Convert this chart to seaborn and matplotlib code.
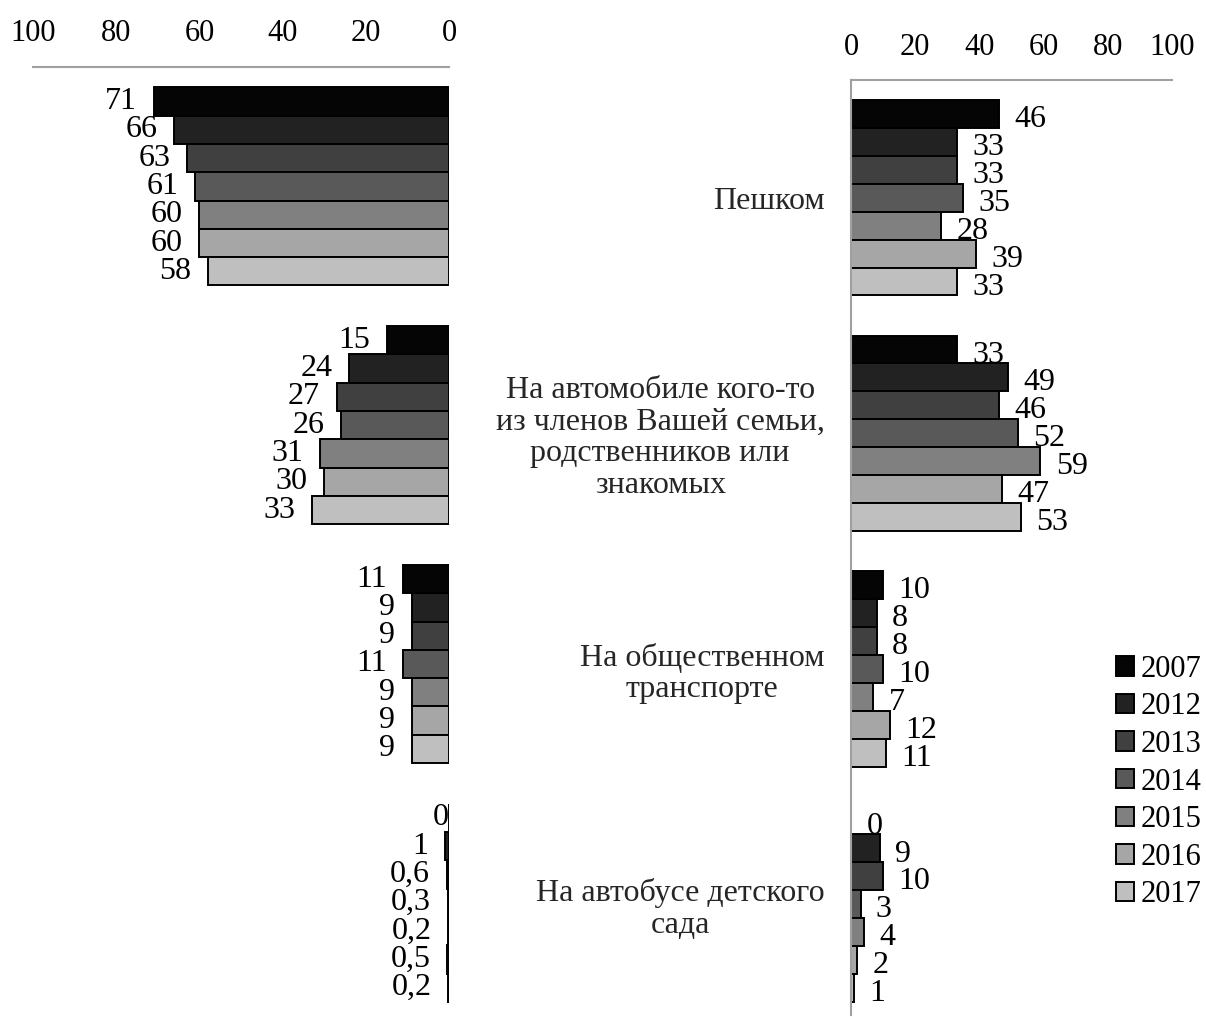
import pandas as pd
import seaborn as sns
import matplotlib.pyplot as plt
from matplotlib.patches import Patch

# categories (right-hand labels) and years
categories = [
    "Пешком",
    "На автомобиле кого-то\nиз членов Вашей семьи,\nродственников или\nзнакомых",
    "На общественном\nтранспорте",
    "На автобусе детского\nсада",
]
years = ["2007", "2012", "2013", "2014", "2015", "2016", "2017"]
colors = ["#050505", "#222222", "#404040", "#595959", "#808080", "#a6a6a6", "#bfbfbf"]

# left panel values, one list per category (years in order)
left_walk = [71, 66, 63, 61, 60, 60, 58]
left_car = [15, 24, 27, 26, 31, 30, 33]
left_public = [11, 9, 9, 11, 9, 9, 9]
left_bus = [0, 1, 0.6, 0.3, 0.2, 0.5, 0.2]

# right panel values
right_walk = [46, 33, 33, 35, 28, 39, 33]
right_car = [33, 49, 46, 52, 59, 47, 53]
right_public = [10, 8, 8, 10, 7, 12, 11]
right_bus = [0, 9, 10, 3, 4, 2, 1]


def to_long(groups):
    rows = []
    for cat, vals in zip(categories, groups):
        for yr, v in zip(years, vals):
            rows.append({"cat": cat, "year": yr, "value": v})
    return pd.DataFrame(rows)


df_left = to_long([left_walk, left_car, left_public, left_bus])
df_right = to_long([right_walk, right_car, right_public, right_bus])

sns.set_style("white")
plt.rcParams["font.family"] = ["Liberation Serif", "DejaVu Serif"]
plt.rcParams["text.color"] = "black"

fig = plt.figure(figsize=(12.06, 10.17), dpi=100)
W, H = 1206, 1017
ax_l = fig.add_axes([33 / W, 1 - 1015 / H, (449 - 33) / W, (1015 - 67) / H])
ax_r = fig.add_axes([851 / W, 1 - 1015 / H, (1172 - 851) / W, (1015 - 80) / H])

spine_gray = "#a0a0a0"

for ax, df, tpad in [(ax_l, df_left, 14), (ax_r, df_right, 13)]:
    sns.barplot(
        data=df, x="value", y="cat", hue="year", order=categories,
        hue_order=years, palette=colors, orient="h", width=0.83,
        edgecolor="black", linewidth=1.4, ax=ax, legend=False,
    )
    ax.set_ylim(3.47, -0.5)
    ax.set_xticks([0, 20, 40, 60, 80, 100])
    ax.xaxis.tick_top()
    ax.tick_params(axis="x", length=0, labelsize=22, pad=tpad, colors="black")
    ax.set_xlabel("")
    ax.set_ylabel("")
    for s in ["right", "bottom"]:
        ax.spines[s].set_visible(False)
    ax.spines["top"].set_color(spine_gray)
    ax.spines["top"].set_linewidth(1.5)

# left panel: reversed axis, no category labels
ax_l.set_xlim(100, 0)
ax_l.spines["left"].set_visible(False)
ax_l.set_yticks([])
for cont, yr in zip(ax_l.containers, years):
    vals = df_left[df_left["year"] == yr]["value"].tolist()
    labels = [f"{v:g}".replace(".", ",") for v in vals]
    ax_l.bar_label(cont, labels=labels, padding=12, fontsize=23)

# right panel
ax_r.set_xlim(0, 100)
ax_r.spines["left"].set_color(spine_gray)
ax_r.spines["left"].set_linewidth(1.5)
ax_r.tick_params(axis="y", length=0, labelsize=23, pad=19)
for t in ax_r.get_yticklabels():
    t.set_multialignment("center")
    t.set_linespacing(1.12)
for cont, yr in zip(ax_r.containers, years):
    vals = df_right[df_right["year"] == yr]["value"].tolist()
    labels = [f"{v:g}" for v in vals]
    texts = ax_r.bar_label(cont, labels=labels, padding=11, fontsize=23)
    for t in texts:
        t.xyann = (11, -4)

handles = [Patch(facecolor=c, edgecolor="black", linewidth=1.4) for c in colors]
fig.legend(
    handles, years, loc="center left", bbox_to_anchor=(1116 / W, 1 - 782 / H),
    frameon=False, fontsize=22, handlelength=0.6, handleheight=0.6,
    handletextpad=0.2, labelspacing=0.28, borderaxespad=0, borderpad=0,
)

fig.savefig("out.png", dpi=100)
